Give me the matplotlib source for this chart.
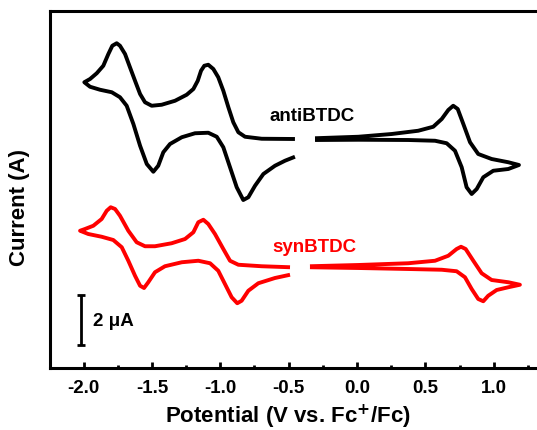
import numpy as np
import matplotlib.pyplot as plt

plt.rcParams['font.family'] = ['Liberation Sans', 'DejaVu Sans']
plt.rcParams['font.weight'] = 'bold'

# antiBTDC, negative window: upper branch (right -> left) then lower branch (left -> right)
anti_neg_v = [-0.454, -0.697, -0.819, -0.868, -0.905, -0.941, -0.978, -1.015, -1.051, -1.088,
              -1.117, -1.141, -1.165, -1.197, -1.246, -1.331, -1.429, -1.502, -1.551, -1.587,
              -1.624, -1.661, -1.697, -1.734, -1.758, -1.790, -1.819, -1.856, -1.904, -1.953, -1.995,
              -1.953, -1.880, -1.794, -1.734, -1.685, -1.636, -1.587, -1.538, -1.490, -1.454,
              -1.417, -1.368, -1.282, -1.185, -1.088, -1.026, -0.978, -0.929, -0.880, -0.832,
              -0.795, -0.746, -0.685, -0.600, -0.527, -0.454]
anti_neg_i = [9.16, 9.17, 9.25, 9.43, 9.83, 10.43, 11.09, 11.63, 11.96, 12.13,
              12.09, 11.89, 11.49, 11.16, 10.93, 10.69, 10.53, 10.49, 10.63, 10.96,
              11.49, 12.03, 12.56, 12.89, 12.99, 12.89, 12.56, 12.09, 11.79, 11.56, 11.43,
              11.25, 11.13, 11.03, 10.83, 10.49, 9.76, 8.89, 8.16, 7.85, 8.09,
              8.63, 8.96, 9.23, 9.39, 9.41, 9.25, 8.83, 8.03, 7.23, 6.72,
              6.83, 7.29, 7.76, 8.09, 8.29, 8.45]

# antiBTDC, positive window: upper branch (left -> right) then lower branch (right -> left)
anti_pos_v = [-0.307, 0.010, 0.254, 0.448, 0.558, 0.620, 0.668, 0.704, 0.737, 0.778,
              0.827, 0.887, 0.985, 1.107, 1.185,
              1.107, 0.997, 0.924, 0.876, 0.839, 0.802, 0.766, 0.717, 0.656, 0.571,
              0.375, 0.010, -0.307]
anti_pos_i = [9.19, 9.25, 9.36, 9.49, 9.65, 9.96, 10.32, 10.49, 10.36, 9.76,
              9.03, 8.56, 8.36, 8.23, 8.12,
              7.96, 7.89, 7.63, 7.16, 6.96, 7.23, 8.03, 8.69, 8.99, 9.09,
              9.12, 9.13, 9.12]

# synBTDC, negative window
syn_neg_v = [-0.490, -0.697, -0.868, -0.929, -0.978, -1.039, -1.088, -1.124, -1.161, -1.197,
             -1.258, -1.356, -1.478, -1.551, -1.612, -1.673, -1.734, -1.770, -1.802, -1.831,
             -1.868, -1.929, -1.990, -2.026,
             -1.966, -1.868, -1.783, -1.721, -1.673, -1.624, -1.587, -1.558, -1.527, -1.478,
             -1.405, -1.282, -1.161, -1.075, -1.015, -0.966, -0.917, -0.876, -0.844, -0.795,
             -0.722, -0.600, -0.490]
syn_neg_i = [4.03, 4.07, 4.13, 4.29, 4.76, 5.36, 5.76, 5.93, 5.83, 5.43,
             5.16, 4.99, 4.87, 4.87, 5.03, 5.49, 6.09, 6.36, 6.43, 6.29,
             5.96, 5.69, 5.56, 5.49,
             5.36, 5.25, 5.12, 4.83, 4.29, 3.69, 3.29, 3.20, 3.43, 3.83,
             4.07, 4.23, 4.29, 4.19, 3.89, 3.36, 2.83, 2.59, 2.69, 3.09,
             3.39, 3.60, 3.73]

# synBTDC, positive window
syn_pos_v = [-0.344, 0.010, 0.375, 0.571, 0.668, 0.729, 0.761, 0.795, 0.851, 0.912,
             0.985, 1.107, 1.192,
             1.107, 1.022, 0.960, 0.924, 0.887, 0.839, 0.790, 0.729, 0.620, 0.375,
             0.010, -0.344]
syn_pos_i = [4.07, 4.12, 4.19, 4.29, 4.49, 4.76, 4.85, 4.76, 4.29, 3.79,
             3.52, 3.43, 3.33,
             3.23, 3.12, 2.89, 2.67, 2.76, 3.16, 3.63, 3.87, 3.93, 3.96,
             4.00, 4.03]

fig = plt.figure(figsize=(5.37, 4.31), dpi=100)
ax = fig.add_axes([50 / 537, 62 / 431, 487 / 537, 357 / 431])

kw = dict(lw=2.8, solid_joinstyle='round', solid_capstyle='butt')
ax.plot(anti_neg_v, anti_neg_i, color='black', **kw)
ax.plot(anti_pos_v, anti_pos_i, color='black', **kw)
ax.plot(syn_neg_v, syn_neg_i, color='#ff0000', **kw)
ax.plot(syn_pos_v, syn_pos_i, color='#ff0000', **kw)

ax.text(-0.33, 10.1, 'antiBTDC', ha='center', va='center', fontsize=13.5, fontweight='bold')
ax.text(-0.31, 4.85, 'synBTDC', ha='center', va='center', fontsize=13.5, fontweight='bold',
        color='#ff0000')

# 2 uA scale bar
ax.errorbar([-2.021], [1.92], yerr=[1.0], color='black', lw=2, capsize=3, capthick=2)
ax.text(-1.93, 1.88, '2 μA', ha='left', va='center', fontsize=13.5, fontweight='bold')

ax.set_xlim(-2.246, 1.317)
ax.set_ylim(0, 14.28)
ax.set_xticks([-2.0, -1.5, -1.0, -0.5, 0.0, 0.5, 1.0])
ax.set_xticklabels(['-2.0', '-1.5', '-1.0', '-0.5', '0.0', '0.5', '1.0'])
ax.set_xticks(np.arange(-1.75, 1.3, 0.5), minor=True)
ax.set_yticks([])
ax.tick_params(axis='x', which='major', direction='in', length=4, width=2, labelsize=13.5, pad=8)
ax.tick_params(axis='x', which='minor', direction='in', length=2, width=2)
for lab in ax.get_xticklabels():
    lab.set_fontweight('bold')
for s in ['left', 'bottom', 'top']:
    ax.spines[s].set_linewidth(2.2)
ax.spines['right'].set_visible(False)

fig.text(288 / 537, 1 - 417 / 431, 'Potential (V vs. Fc$^{\\mathbf{+}}$/Fc)', ha='center', va='center',
         fontsize=16, fontweight='bold')
fig.text(20 / 537, 1 - 207 / 431, 'Current (A)', rotation=90, ha='center', va='center',
         fontsize=16, fontweight='bold')

fig.savefig('out.png', dpi=100)
